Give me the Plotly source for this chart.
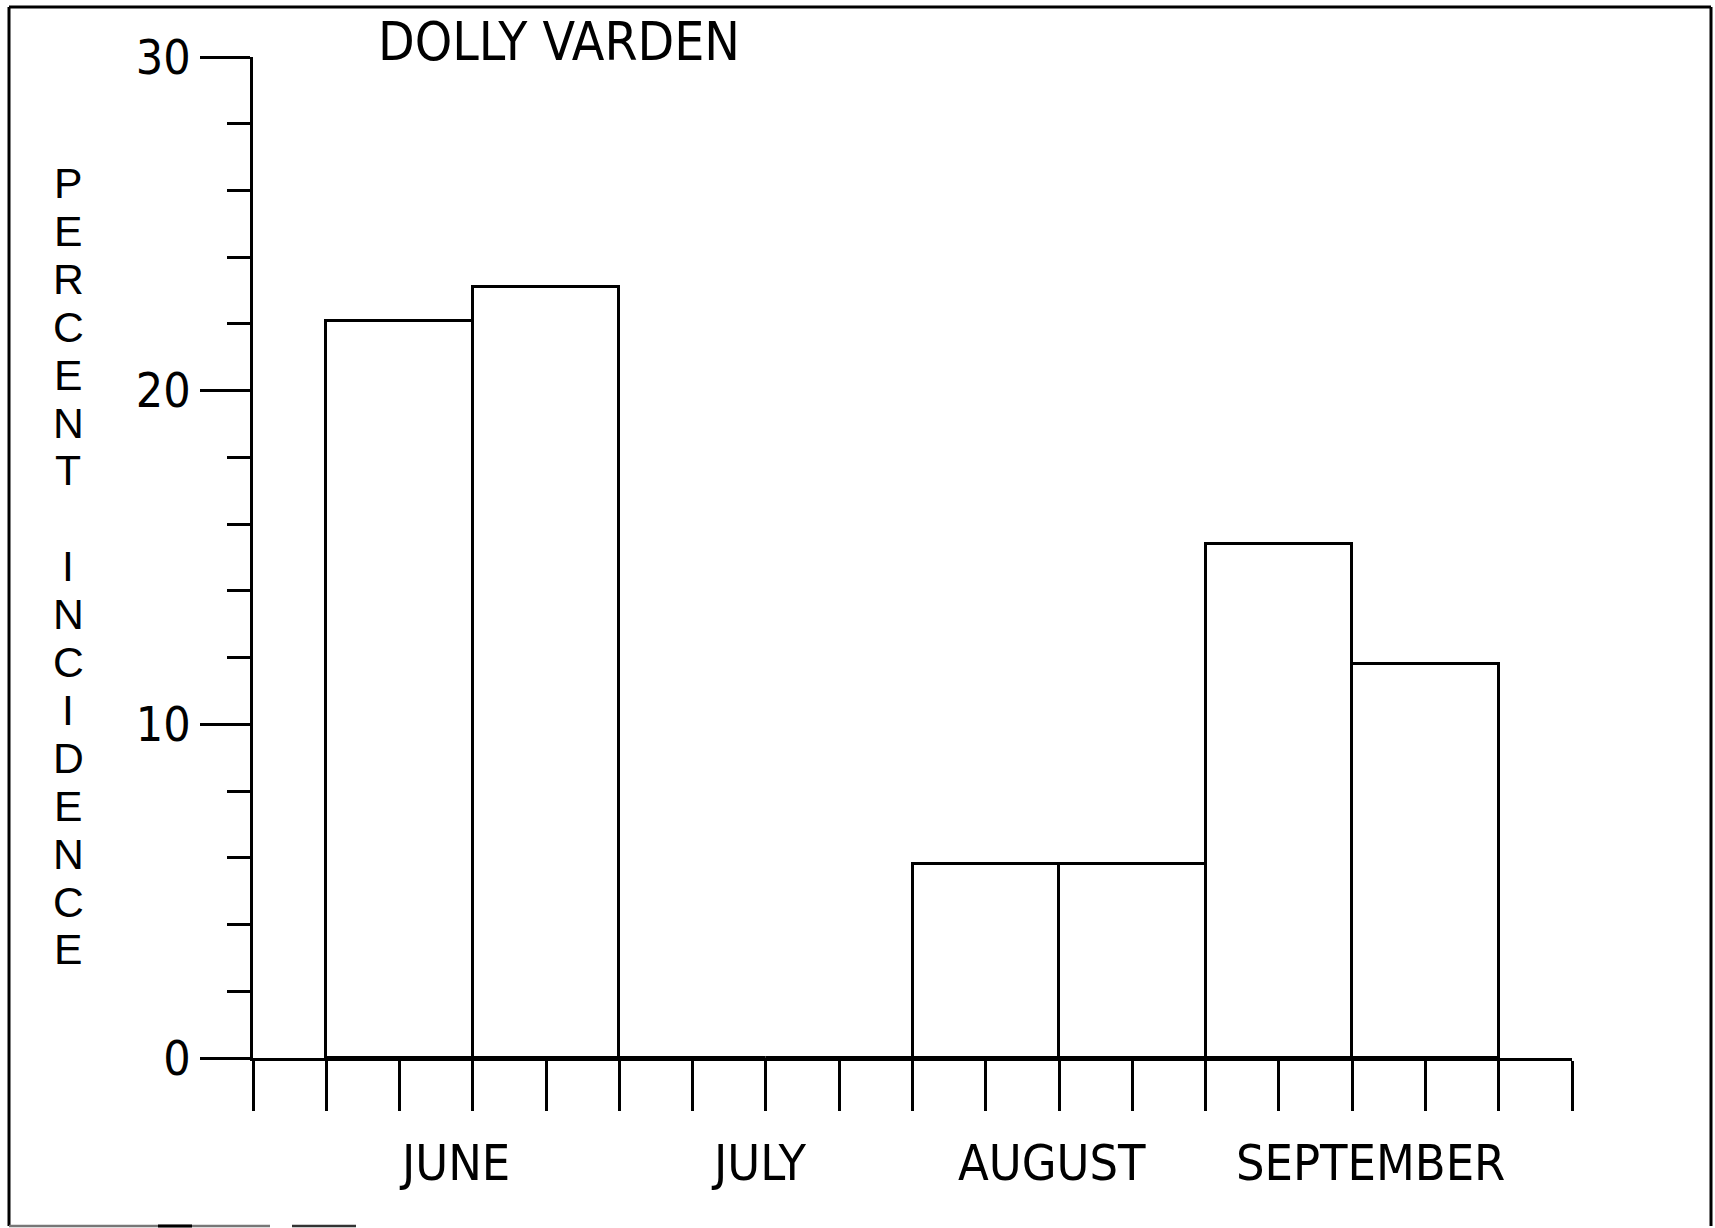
import plotly.graph_objects as go

# ---- data ----
periods = ["June 1", "June 2", "July 1", "July 2", "August 1", "August 2", "September 1", "September 2"]
percent = [22.1, 23.1, 0.0, 0.0, 5.8, 5.8, 15.4, 11.8]
months = ["JUNE", "JULY", "AUGUST", "SEPTEMBER"]
month_label_x = [2.75, 6.9, 10.9, 15.25]
y_major = [0, 10, 20, 30]
y_title = "PERCENT INCIDENCE"
chart_title = "DOLLY VARDEN"

FONT = "DejaVu Sans Condensed, Liberation Sans Narrow, DejaVu Sans, sans-serif"
W, H = 1715, 1228
pw, ph = 1319, 1001
L, T = 253, 57
R, B = W - L - pw, H - T - ph

bar_x = [2 + 2 * i for i in range(len(periods))]

fig = go.Figure()
fig.add_trace(go.Bar(
    x=bar_x, y=percent, width=2,
    marker=dict(color="white", line=dict(color="black", width=3)),
    hovertext=periods, showlegend=False,
))

# convert page-pixel positions to paper coordinates
def px2paper_x(px):
    return (px - L) / pw

def px2paper_y(py):
    return (T + ph - py) / ph

annotations = []
annotations.append(dict(text=chart_title, xref="x", yref="paper", x=4.18, y=px2paper_y(42),
                        showarrow=False, font=dict(family=FONT, size=53, color="black"),
                        xanchor="center", yanchor="middle"))
for m, mx in zip(months, month_label_x):
    annotations.append(dict(text=m, xref="x", yref="paper", x=mx, y=px2paper_y(1163),
                            showarrow=False, font=dict(family=FONT, size=50, color="black"),
                            xanchor="center", yanchor="middle"))

# stacked vertical axis title, one letter per text
pitch = 47.9
for i, ch in enumerate(y_title):
    if ch == " ":
        continue
    annotations.append(dict(text=ch, xref="paper", yref="paper", x=px2paper_x(68),
                            y=px2paper_y(183 + i * pitch), showarrow=False, borderpad=0,
                            font=dict(family="Liberation Sans, Arial, sans-serif", size=42.7, color="black"),
                            xanchor="center", yanchor="middle"))

shapes = []
border = dict(color="black", width=3)
bx0, bx1 = px2paper_x(9), px2paper_x(1711)
by_top, by_bot = px2paper_y(7), px2paper_y(1226)
shapes.append(dict(type="line", xref="paper", yref="paper", x0=bx0, x1=bx0, y0=by_bot, y1=by_top, line=border))
shapes.append(dict(type="line", xref="paper", yref="paper", x0=bx0, x1=bx1, y0=by_top, y1=by_top, line=border))
shapes.append(dict(type="line", xref="paper", yref="paper", x0=bx1, x1=bx1, y0=by_bot, y1=by_top, line=border))
shapes.append(dict(type="line", xref="paper", yref="paper", x0=bx0, x1=px2paper_x(270), y0=by_bot, y1=by_bot,
                   line=dict(color="#777777", width=2.5)))
shapes.append(dict(type="line", xref="paper", yref="paper", x0=px2paper_x(158), x1=px2paper_x(192), y0=by_bot, y1=by_bot,
                   line=dict(color="black", width=3)))
shapes.append(dict(type="line", xref="paper", yref="paper", x0=px2paper_x(292), x1=px2paper_x(356), y0=by_bot, y1=by_bot,
                   line=dict(color="#333333", width=2.5)))

fig.update_layout(
    template="none",
    width=W, height=H,
    margin=dict(l=L, r=R, t=T, b=B, pad=0, autoexpand=False),
    paper_bgcolor="white", plot_bgcolor="white",
    font=dict(family=FONT, color="black"),
    bargap=0,
    annotations=annotations,
    shapes=shapes,
    xaxis=dict(range=[0, 18], tickvals=list(range(0, 19)), showticklabels=False,
               ticks="outside", ticklen=50, tickwidth=2.5, tickcolor="black",
               showline=True, linecolor="black", linewidth=2.5, automargin=False,
               showgrid=False, zeroline=False, fixedrange=True),
    yaxis=dict(range=[0, 30], tickvals=y_major, ticktext=[str(v) for v in y_major],
               ticks="outside", ticklen=50, tickwidth=2.5, tickcolor="black",
               ticklabelstandoff=0, automargin=False,
               tickfont=dict(family=FONT, size=48, color="black"),
               minor=dict(dtick=2, ticks="outside", ticklen=23, tickwidth=2.5, tickcolor="black"),
               showline=True, linecolor="black", linewidth=2.5,
               showgrid=False, zeroline=False, fixedrange=True),
)

fig.write_html("out.html", config={"displayModeBar": False},
               post_script="document.body.style.margin='0px';document.body.style.overflow='hidden';")
